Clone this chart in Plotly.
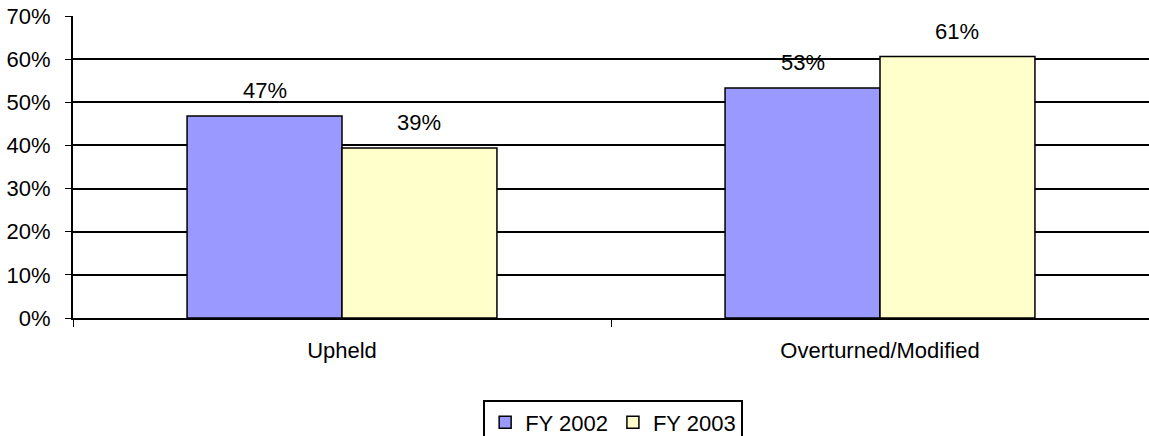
import plotly.graph_objects as go

categories = ["Upheld", "Overturned/Modified"]
fy2002 = [0.468, 0.533]
fy2003 = [0.394, 0.606]
series_names = ["FY 2002", "FY 2003"]
y_ticks = [0, 0.1, 0.2, 0.3, 0.4, 0.5, 0.6, 0.7]

W, H = 1149, 436
L, R, T, B = 73, 0, 16, 118
bargap = 0.424

fig = go.Figure()

colors = ["#9999FF", "#FFFFCC"]
for name, vals, col in zip(series_names, [fy2002, fy2003], colors):
    fig.add_trace(go.Bar(
        x=categories,
        y=vals,
        name=name,
        marker=dict(color=col, line=dict(color="black", width=1.5)),
    ))

# value labels above bars (Excel style, with a gap)
cat_px = (W - L - R) / len(categories)
bar_px = cat_px * (1 - bargap) / len(series_names)
for i, vals in enumerate([fy2002, fy2003]):
    offset = (i - (len(series_names) - 1) / 2) * bar_px
    for c, v in zip(categories, vals):
        fig.add_annotation(
            x=c, y=v, xref="x", yref="y",
            text=f"{v:.0%}", showarrow=False,
            xanchor="center", yanchor="bottom",
            xshift=offset, yshift=11,
            font=dict(size=22, color="black"),
        )

fig.update_layout(
    width=W,
    height=H,
    margin=dict(l=L, r=R, t=T, b=B, autoexpand=False),
    paper_bgcolor="white",
    plot_bgcolor="white",
    font=dict(family="Liberation Sans, Arial, sans-serif", size=22, color="black"),
    barmode="group",
    bargap=bargap,
    bargroupgap=0,
    legend=dict(
        orientation="h",
        x=0.502, xanchor="center",
        y=-0.27, yanchor="top",
        bordercolor="black", borderwidth=2,
        font=dict(size=22),
        itemwidth=30,
    ),
)

fig.update_xaxes(
    showline=True, linecolor="black", linewidth=2,
    ticks="outside", tickson="boundaries", ticklen=7, tickcolor="black",
    ticklabelstandoff=12,
    showgrid=False, automargin=False,
)
fig.update_yaxes(
    range=[0, 0.7],
    tickvals=y_ticks,
    tickformat=".0%",
    showline=True, linecolor="black", linewidth=2,
    ticks="outside", ticklen=6, tickcolor="black",
    ticklabelstandoff=10,
    showgrid=True, gridcolor="black", gridwidth=1.5,
    zeroline=False, automargin=False,
)

fig.write_html(
    "out.html",
    config={"displayModeBar": False},
    post_script="document.body.style.margin='0';document.body.style.overflow='hidden';",
)
